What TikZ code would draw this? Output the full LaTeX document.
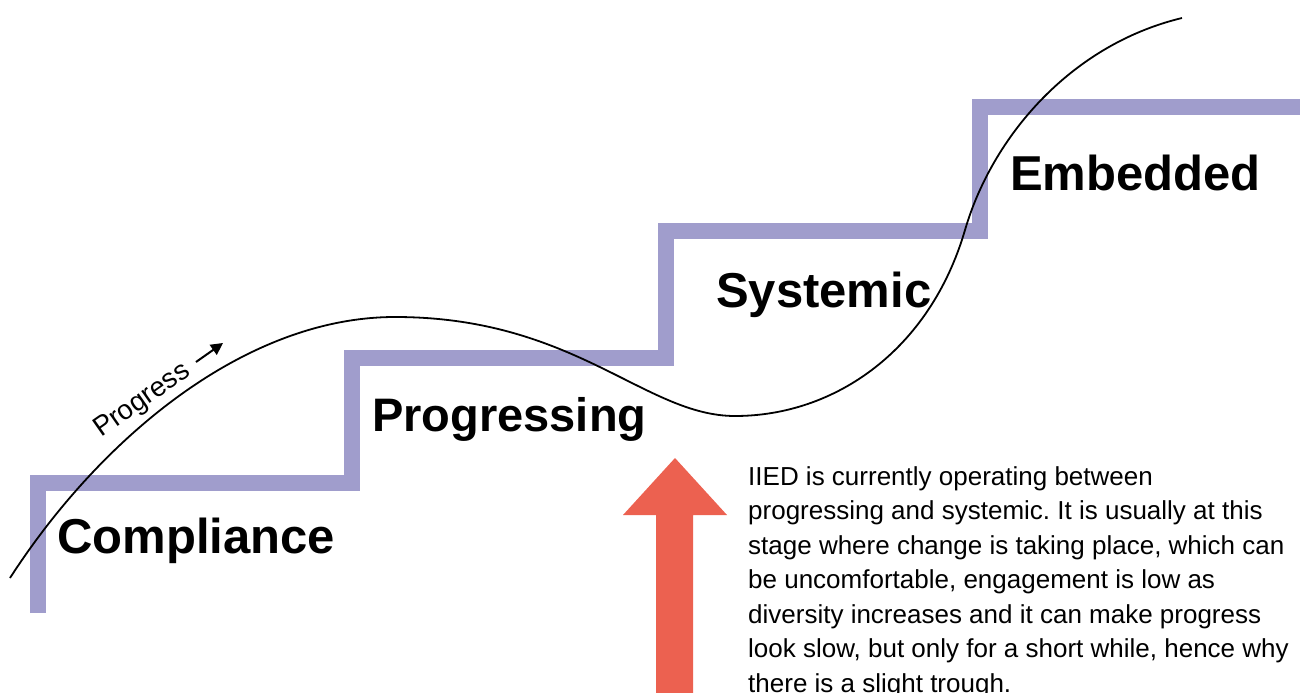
\documentclass[tikz,border=0pt]{standalone}
\usepackage{fontspec}
\setmainfont{Liberation Sans}
\usetikzlibrary{arrows.meta}
\definecolor{stair}{RGB}{160,157,204}
\definecolor{arrowred}{RGB}{236,97,80}
\begin{document}
\frenchspacing
\begin{tikzpicture}[x=1pt,y=-1pt,
  stairline/.style={draw=stair, line width=16pt, line join=miter, line cap=butt},
  curveline/.style={draw=black, line width=1.8pt},
  stage/.style={font=\fontsize{49}{55}\selectfont\bfseries, anchor=base west, inner sep=0pt},
  para/.style={font=\fontsize{26}{34.5}\selectfont, anchor=north west, align=left, inner sep=0pt},
  proglabel/.style={font=\fontsize{27.5}{30}\selectfont, rotate=35, anchor=base west, inner sep=0pt},
  progarrow/.style={line width=2pt, -{Triangle[length=12pt,width=12pt]}}
]
\useasboundingbox (0,0) rectangle (1309,693);

% stairs
\draw[stairline] (38,613) -- (38,482.5) -- (352,482.5) -- (352,358) -- (666,358)
  -- (666,231) -- (980,231) -- (980,107) -- (1300,107);

% progress curve
\draw[curveline] (10,578) .. controls (100,438.5) and (245,317) .. (395,317)
  .. controls (575,317) and (645,416) .. (735,416)
  .. controls (835,416) and (930,350) .. (965,230)
  .. controls (992,137.4) and (1070,45) .. (1182,18);

% red arrow
\fill[arrowred] (656,693) -- (656,515) -- (623,515) -- (675,458) -- (727,515)
  -- (693,515) -- (693,693) -- cycle;

% stage labels
\node[stage] (compliance) at (57,553) {Compliance};
\node[stage, font=\fontsize{47}{55}\selectfont\bfseries] (progressing) at (372,431) {Progressing};
\node[stage] (systemic) at (716,307) {Systemic};
\node[stage] (embedded) at (1010,190) {Embedded};

% progress label and arrow
\node[proglabel] (prog) at (101,438) {Progress};
\coordinate (pa1) at (196,362);
\coordinate (pa2) at (223,343);
\draw[progarrow] (pa1) -- (pa2);

% explanatory text
\node[para] (note) at (748,466) {IIED is currently operating between\\
progressing and systemic. It is usually at this\\
stage where change is taking place, which can\\
be uncomfortable, engagement is low as\\
diversity increases and it can make progress\\
look slow, but only for a short while, hence why\\
there is a slight trough.};
\end{tikzpicture}
\end{document}
